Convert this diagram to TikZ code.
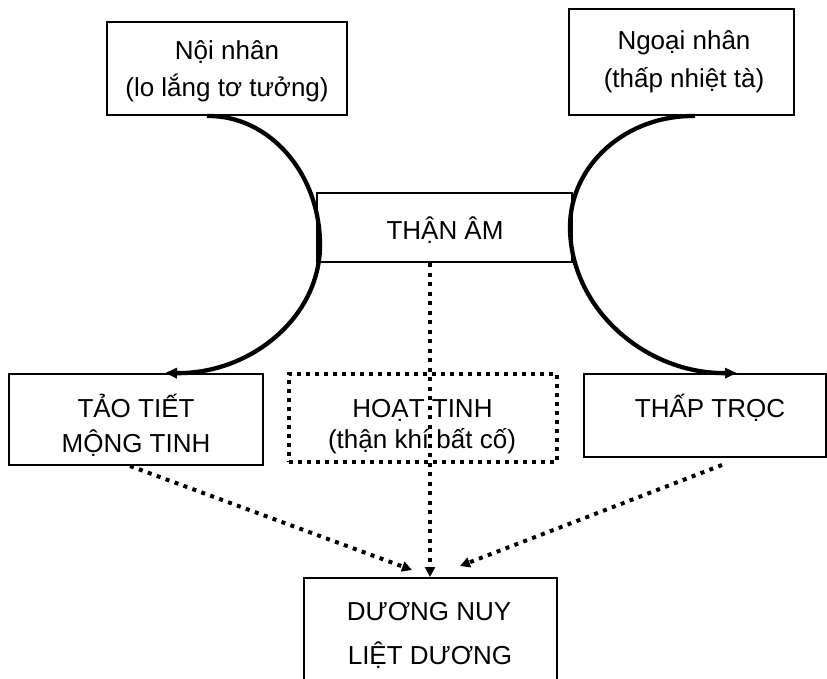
\documentclass[tikz,border=0pt]{standalone}
\usepackage{fontspec}
\setmainfont{Liberation Sans}
\usetikzlibrary{arrows.meta,calc}
\begin{document}
\begin{tikzpicture}[x=1pt,y=-1pt,
  box/.style={draw=black,line width=2pt,rectangle,inner sep=0pt},
  dotbox/.style={draw=black,line width=4pt,dash pattern=on 4pt off 5pt,rectangle,inner sep=0pt},
  lbl/.style={anchor=base,inner sep=0pt,font=\fontsize{26}{30}\selectfont},
  curve/.style={line width=4.3pt,-{Triangle[length=12pt,width=10pt]}},
  dots/.style={line width=4pt,dash pattern=on 4pt off 5.5pt,-{Triangle[length=10pt,width=10pt]}}]
\useasboundingbox (0,0) rectangle (827,679);
\clip (0,0) rectangle (827,679);
% boxes
\node[box,minimum width=240pt,minimum height=93pt] (noi) at (227,68.5) {};
\node[box,minimum width=225pt,minimum height=106pt] (ngoai) at (681.5,62) {};
\node[box,minimum width=255pt,minimum height=69pt] (than) at (444.5,227.5) {};
\node[box,minimum width=254pt,minimum height=91pt] (tao) at (136,419.5) {};
\node[dotbox,minimum width=268pt,minimum height=88pt] (hoat) at (423,418) {};
\node[box,minimum width=242pt,minimum height=83pt] (thap) at (705,415.5) {};
\node[box,minimum width=253pt,minimum height=122pt] (duong) at (430.5,639) {};
% labels
\node[lbl] (t1) at (227,60) {Nội nhân};
\node[lbl] (t2) at (227,97) {(lo lắng tơ tưởng)};
\node[lbl] (t3) at (684,50) {Ngoại nhân};
\node[lbl] (t4) at (684,88) {(thấp nhiệt tà)};
\node[lbl] (t5) at (445,240) {THẬN ÂM};
\node[lbl] (t6) at (136,417) {TẢO TIẾT};
\node[lbl] (t7) at (136,452) {MỘNG TINH};
\node[lbl] (t8) at (422.5,417) {HOẠT TINH};
\node[lbl] (t9) at (422,448) {(thận khí bất cố)};
\node[lbl] (t10) at (710,417) {THẤP TRỌC};
\node[lbl] (t11) at (429,620) {DƯƠNG NUY};
\node[lbl] (t12) at (430,664) {LIỆT DƯƠNG};
% curved connectors
\draw[curve] ($(noi.south)+(-20,0)$) .. controls (269,115) and (320,173) .. (320,245)
  .. controls (320,317) and (251,374) .. ($(tao.north)+(29,0)$);
\draw[curve] ($(ngoai.south)+(13.5,0)$) .. controls (626,115) and (570,165) .. (570,227)
  .. controls (570,308) and (645,374) .. ($(thap.north)+(32,0)$);
% dotted connectors
\draw[dots] ($(than.south)+(-14.5,0)$) -- ($(duong.north)+(-0.5,0)$);
\draw[dots] ($(tao.south)+(-6,0)$) -- ($(duong.north)+(-18.5,-7)$);
\draw[dots] ($(thap.south)+(17,7)$) -- ($(duong.north)+(29.5,-11)$);
\end{tikzpicture}
\end{document}
